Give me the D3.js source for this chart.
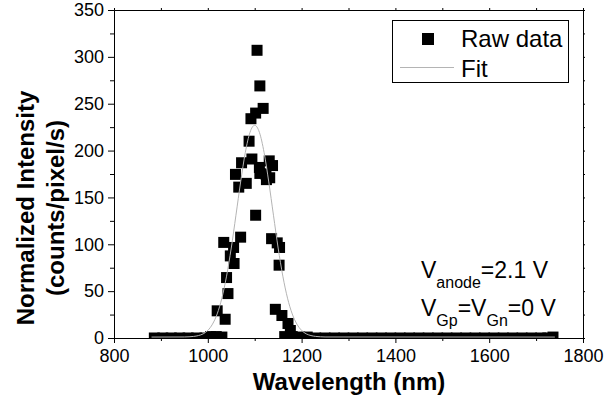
<!DOCTYPE html>
<html>
<head>
<meta charset="utf-8">
<script src="https://cdn.jsdelivr.net/npm/d3@7"></script>
<style>
  body { margin: 0; background: #fff; }
  svg { display: block; font-family: "Liberation Sans", Arial, sans-serif; }
</style>
</head>
<body>
<svg></svg>
<script>
const width = 616;
const height = 401;
const svg = d3.select("svg").attr("width", width).attr("height", height);

// raw spectrum (nm, counts/pixel/s)
const rawWavelength = [
  886, 904, 922, 940, 958, 976, 994, 1006, 1018, 1030,
  1020, 1037, 1040, 1043, 1048, 1055, 1056, 1034, 1059, 1066,
  1070, 1072, 1082, 1088, 1092, 1094, 1102, 1102, 1105, 1110,
  1111, 1111, 1118, 1124, 1125, 1131, 1132, 1138, 1136, 1148,
  1153, 1152, 1144, 1158, 1171, 1176,
  1164, 1180, 1196, 1212, 1230, 1250, 1270, 1290, 1310, 1330,
  1350, 1370, 1390, 1410, 1430, 1450, 1470, 1490, 1510, 1530,
  1550, 1570, 1590, 1610, 1630, 1650, 1670, 1690, 1710, 1725, 1736
];
const rawIntensity = [
  0, 0, 0, 0, 0, 0, 0, 1.5, 1.5, 1,
  29, 20, 64.5, 47.4, 87.6, 96.6, 79.5, 102, 174.6, 161,
  107.6, 187, 165, 210, 234, 191, 240, 131, 307, 182,
  269, 175.6, 245, 175, 169, 189, 171, 184, 106, 101.5,
  96.6, 77.7, 30.6, 24, 15.5, 8,
  1.5, 1.5, 1, 1, 0, 0, 0, 0, 0, 0,
  0, 0, 0, 0, 0, 0, 0, 0, 0, 0,
  0, 0, 0, 0, 0, 0, 0, 0, 0, 0, 1
];

// gaussian fit
const fitWavelength = [880, 950, 960, 970, 980, 990, 1000, 1010, 1020, 1030, 1040,
  1050, 1060, 1070, 1080, 1090, 1100, 1110, 1120, 1130, 1140, 1150, 1160,
  1170, 1180, 1190, 1200, 1210, 1220, 1230, 1240, 1250, 1740];
const fitIntensity = [1, 1.1, 1.3, 1.7, 2.6, 4.4, 8.1, 14.8, 25.7, 42.5, 66,
  96, 131, 166.5, 198, 219.5, 227, 219.5, 198, 166.5, 131, 96, 66,
  42.5, 25.7, 14.8, 8.1, 4.4, 2.6, 1.7, 1.3, 1.1, 1];

const xMajor = [800, 1000, 1200, 1400, 1600, 1800];
const xMinor = [900, 1100, 1300, 1500, 1700];
const yMajor = [0, 50, 100, 150, 200, 250, 300, 350];
const yMinor = [25, 75, 125, 175, 225, 275, 325];
const legendLabels = ["Raw data", "Fit"];

const x = d3.scaleLinear().domain([800, 1800]).range([114, 583]);
const y = d3.scaleLinear().domain([0, 350]).range([338, 10]);

svg.append("defs").append("clipPath").attr("id", "plotClip")
  .append("rect")
  .attr("x", 114).attr("y", 10)
  .attr("width", 470).attr("height", 328.5);

const plot = svg.append("g").attr("clip-path", "url(#plotClip)");

const sq = 11;
plot.selectAll("rect.raw")
  .data(rawWavelength.map((w, i) => ({ w, v: rawIntensity[i] })))
  .enter().append("rect")
  .attr("class", "raw")
  .attr("x", d => x(d.w) - sq / 2)
  .attr("y", d => y(d.v) - sq / 2)
  .attr("width", sq)
  .attr("height", sq)
  .attr("fill", "#000");

const fitLine = d3.line()
  .x((d, i) => x(d))
  .y((d, i) => y(fitIntensity[i]))
  .curve(d3.curveMonotoneX);

plot.append("path")
  .attr("d", fitLine(fitWavelength))
  .attr("fill", "none")
  .attr("stroke", "#b4b4b4")
  .attr("stroke-width", 1);

// axes
function styleAxis(g) {
  g.selectAll("path, line").attr("stroke", "#000");
  g.selectAll("text").attr("fill", "#000").style("font-size", "18px").style("font-family", "Liberation Sans, Arial, sans-serif");
}

svg.append("g")
  .attr("transform", "translate(0,338)")
  .call(d3.axisBottom(x).tickValues(xMajor).tickSize(5).tickPadding(6).tickFormat(d3.format("d")))
  .call(styleAxis);
svg.append("g")
  .attr("transform", "translate(0,338)")
  .call(d3.axisBottom(x).tickValues(xMinor).tickSize(3).tickFormat(""))
  .call(g => g.select(".domain").remove())
  .call(styleAxis);

svg.append("g")
  .attr("transform", "translate(114,0)")
  .call(d3.axisLeft(y).tickValues(yMajor).tickSize(6).tickPadding(4))
  .call(styleAxis);
svg.append("g")
  .attr("transform", "translate(114,0)")
  .call(d3.axisLeft(y).tickValues(yMinor).tickSize(4).tickFormat(""))
  .call(g => g.select(".domain").remove())
  .call(styleAxis);

svg.append("g")
  .attr("transform", "translate(0,10)")
  .call(d3.axisTop(x).tickValues(xMajor.concat(xMinor)).tickSize(2).tickFormat(""))
  .call(styleAxis);
svg.append("g")
  .attr("transform", "translate(583,0)")
  .call(d3.axisRight(y).tickValues(yMajor.concat(yMinor)).tickSize(2).tickFormat(""))
  .call(styleAxis);

// axis titles
svg.append("text")
  .attr("x", 349).attr("y", 390)
  .attr("text-anchor", "middle")
  .style("font-size", "24px").style("font-weight", "bold")
  .text("Wavelength (nm)");

const yTitle = svg.append("text")
  .attr("transform", "translate(34,208) rotate(-90)")
  .attr("text-anchor", "middle")
  .style("font-size", "24px").style("font-weight", "bold");
yTitle.append("tspan").attr("x", 0).attr("y", 0).text("Normalized Intensity");
yTitle.append("tspan").attr("x", 0).attr("y", 30).text("(counts/pixel/s)");

// legend
const legend = svg.append("g");
legend.append("rect")
  .attr("x", 392.5).attr("y", 20.5)
  .attr("width", 176).attr("height", 62)
  .attr("fill", "#fff").attr("stroke", "#000");
legend.append("rect")
  .attr("x", 428 - 6).attr("y", 39 - 6)
  .attr("width", 12).attr("height", 12)
  .attr("fill", "#000");
legend.append("line")
  .attr("x1", 400).attr("x2", 454)
  .attr("y1", 67.5).attr("y2", 67.5)
  .attr("stroke", "#b4b4b4");
legend.selectAll("text")
  .data(legendLabels)
  .enter().append("text")
  .attr("x", 461)
  .attr("y", (d, i) => 47 + i * 30)
  .style("font-size", "24px")
  .text(d => d);

// bias annotation
const ann1 = svg.append("text").attr("x", 421).attr("y", 278).style("font-size", "23px");
ann1.append("tspan").text("V");
ann1.append("tspan").attr("dy", 10).style("font-size", "16px").text("anode");
ann1.append("tspan").attr("dy", -10).text("=2.1 V");

const ann2 = svg.append("text").attr("x", 421).attr("y", 316).style("font-size", "23px");
ann2.append("tspan").text("V");
ann2.append("tspan").attr("dy", 10).style("font-size", "16px").text("Gp");
ann2.append("tspan").attr("dy", -10).text("=V");
ann2.append("tspan").attr("dy", 10).style("font-size", "16px").text("Gn");
ann2.append("tspan").attr("dy", -10).text("=0 V");
</script>
</body>
</html>
